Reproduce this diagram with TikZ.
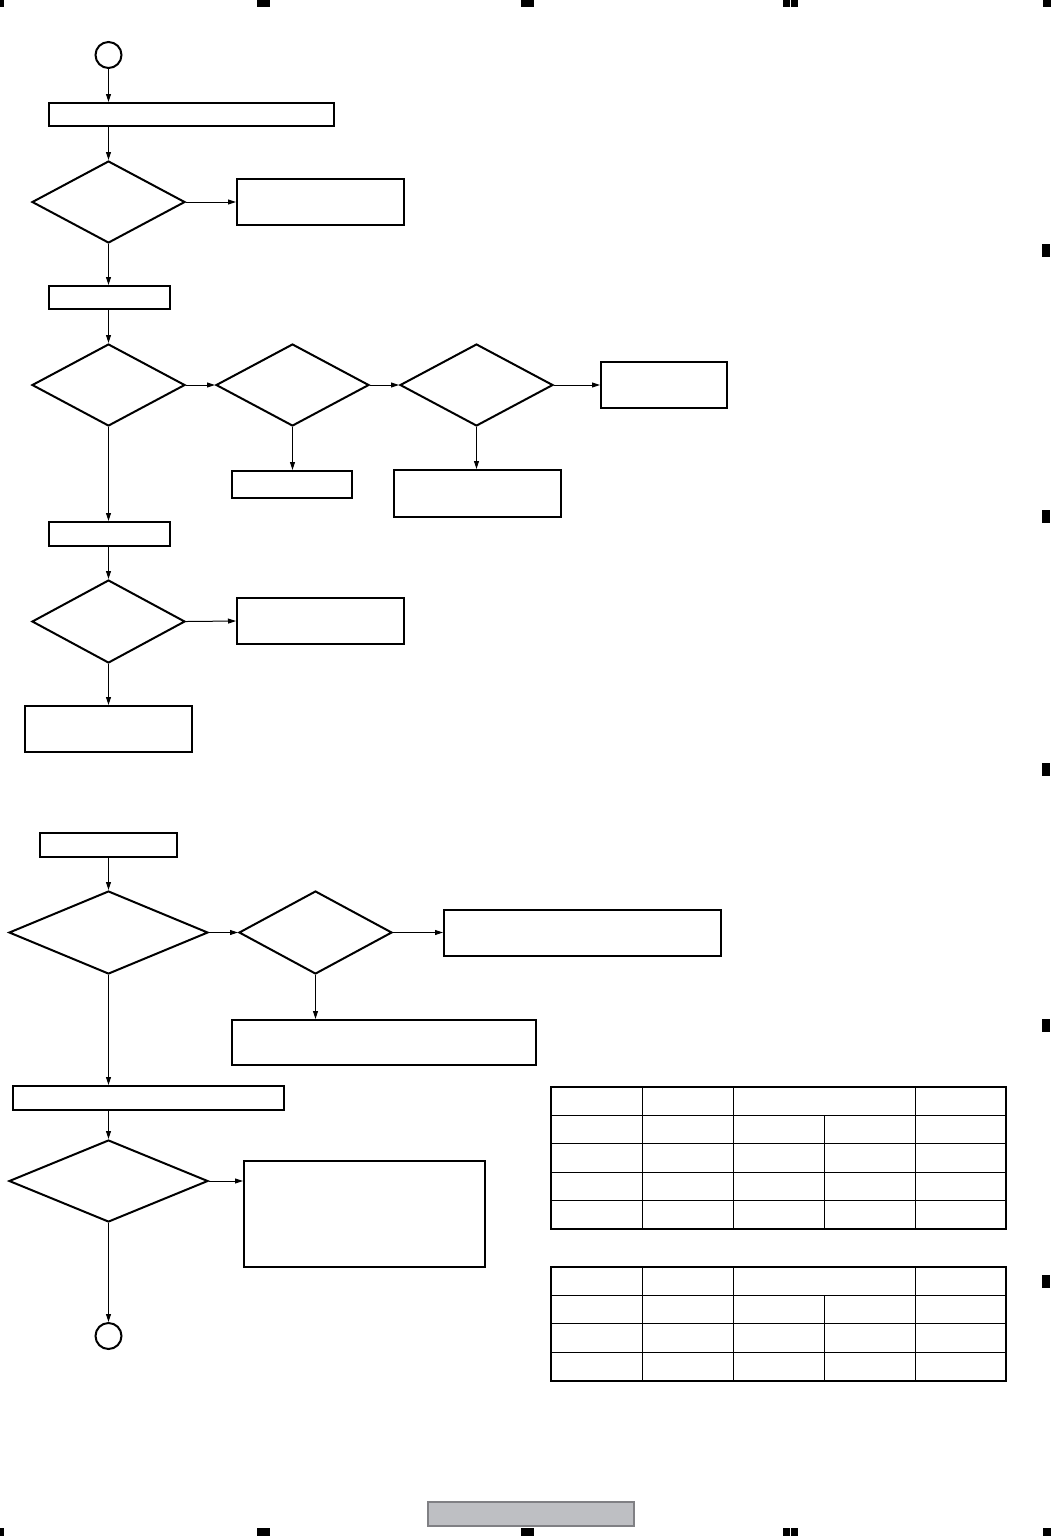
\documentclass[tikz,border=0pt]{standalone}
\usetikzlibrary{shapes.geometric}
\usetikzlibrary{arrows.meta,calc}
\colorlet{box edge}{black}
\definecolor{bar area}{RGB}{190,191,195}
\definecolor{bar edge}{RGB}{128,128,132}
\tikzset{stepbox/.style={draw=box edge, line width=0.2mm, inner sep=0pt, minimum height=2.3mm},
    notebox/.style={draw=box edge, line width=0.2mm, inner sep=0pt, minimum height=4.6mm},
    decision/.style={diamond, draw=box edge, line width=0.2mm, inner sep=0pt,
        minimum width=15.3mm, minimum height=8.2mm},
    terminal/.style={circle, draw=box edge, line width=0.2mm, inner sep=0pt, minimum size=2.6mm},
    flow/.style={line width=0.1mm, -{Triangle[length=0.8mm, width=0.5mm]}},
    grid thin/.style={line width=0.1mm},
    grid thick/.style={line width=0.2mm},
    pagemark/.style={fill=black}}
\begin{document}
\begin{tikzpicture}[x=0.1mm, y=-0.1mm]
    \useasboundingbox (0,0) rectangle (1051,1536);
    % first part
    \node[terminal] (start) at (108.5,55) {};
    \node[stepbox, minimum width=28.5mm] (set) at (191.5,114.5) {};
    \node[decision] (chkA) at (108.5,202) {};
    \node[notebox, minimum width=16.7mm] (ngA) at (320.5,202) {};
    \node[stepbox, minimum width=12.1mm] (setB) at (109.5,297.5) {};
    \node[decision] (chkB) at (108.5,385) {};
    \node[decision] (chkC) at (292.5,385) {};
    \node[decision] (chkD) at (476.5,385) {};
    \node[notebox, minimum width=12.6mm] (ngD) at (664,385) {};
    \node[stepbox, minimum width=12mm, minimum height=2.7mm] (okC) at (292,484.5) {};
    \node[notebox, minimum width=16.7mm, minimum height=4.7mm] (okD) at (477.5,493.5) {};
    \node[stepbox, minimum width=12.1mm, minimum height=2.4mm] (setC) at (109.5,534) {};
    \node[decision, minimum height=8.3mm] (chkE) at (108.5,621.5) {};
    \node[notebox, minimum width=16.7mm] (ngE) at (320.5,621) {};
    \node[notebox, minimum width=16.7mm] (okE) at (108.5,729) {};

    \draw[flow] (start.south) -- (start.south |- set.north);
    \draw[flow] (chkA.north |- set.south) -- (chkA.north);
    \draw[flow] (chkA.east) -- (ngA.west);
    \draw[flow] (chkA.south) -- (chkA.south |- setB.north);
    \draw[flow] (chkB.north |- setB.south) -- (chkB.north);
    \draw[flow] (chkB.east) -- (chkC.west);
    \draw[flow] (chkC.east) -- (chkD.west);
    \draw[flow] (chkD.east) -- (ngD.west);
    \draw[flow] (chkC.south) -- (chkC.south |- okC.north);
    \draw[flow] (chkD.south) -- (chkD.south |- okD.north);
    \draw[flow] (chkB.south) -- (chkB.south |- setC.north);
    \draw[flow] (chkE.north |- setC.south) -- (chkE.north);
    \draw[flow] (chkE.east) -- (ngE.west);
    \draw[flow] (chkE.south) -- (okE.north);

    % second part
    \node[stepbox, minimum width=13.7mm, minimum height=2.4mm] (setD) at (108.5,845) {};
    \node[decision, minimum width=19.9mm, minimum height=8.3mm] (chkF) at (108.5,932.5) {};
    \node[decision, minimum height=8.3mm] (chkG) at (315.5,932.5) {};
    \node[notebox, minimum width=27.7mm] (ngG) at (582.5,933) {};
    \node[notebox, minimum width=30.4mm, minimum height=4.5mm] (okG) at (384,1042.5) {};
    \node[stepbox, minimum width=27.1mm, minimum height=2.4mm] (setE) at (148.5,1098) {};
    \node[decision, minimum width=19.9mm] (chkH) at (108.5,1181) {};
    \node[notebox, minimum width=24.1mm, minimum height=10.6mm] (ngH) at (364.5,1214) {};
    \node[terminal] (end) at (108.5,1336) {};

    \draw[flow] (chkF.north |- setD.south) -- (chkF.north);
    \draw[flow] (chkF.east) -- (chkG.west);
    \draw[flow] (chkG.east) -- (chkG.east -| ngG.west);
    \draw[flow] (chkG.south) -- (chkG.south |- okG.north);
    \draw[flow] (chkF.south) -- (chkF.south |- setE.north);
    \draw[flow] (chkH.north |- setE.south) -- (chkH.north);
    \draw[flow] (chkH.east) -- (chkH.east -| ngH.west);
    \draw[flow] (chkH.south) -- (end.north);

    % tables
    \foreach \y in {1115,1143,1172,1200}
        \draw[grid thin] (551,\y) -- (1006,\y);
    \foreach \x in {642,733,915}
        \draw[grid thin] (\x,1087) -- (\x,1229);
    \draw[grid thin] (824,1115) -- (824,1229);
    \draw[grid thick] (551,1087) rectangle (1006,1229);

    \foreach \y in {1295,1323,1352}
        \draw[grid thin] (551,\y) -- (1006,\y);
    \foreach \x in {642,733,915}
        \draw[grid thin] (\x,1267) -- (\x,1381);
    \draw[grid thin] (824,1295) -- (824,1381);
    \draw[grid thick] (551,1267) rectangle (1006,1381);

    % page marks
    \foreach \x/\w in {0/4,257/13,521/13,783/7,791/7,1043/8} {
        \fill[pagemark] (\x,0) rectangle ++(\w,7);
        \fill[pagemark] (\x,1528) rectangle ++(\w,8);
    }
    \foreach \y in {244,510,763,1019,1275}
        \fill[pagemark] (1042,\y) rectangle ++(8,13);
    \draw[fill=bar area, draw=bar edge, line width=0.15mm] (428,1502) rectangle (634,1526);
\end{tikzpicture}
\end{document}
